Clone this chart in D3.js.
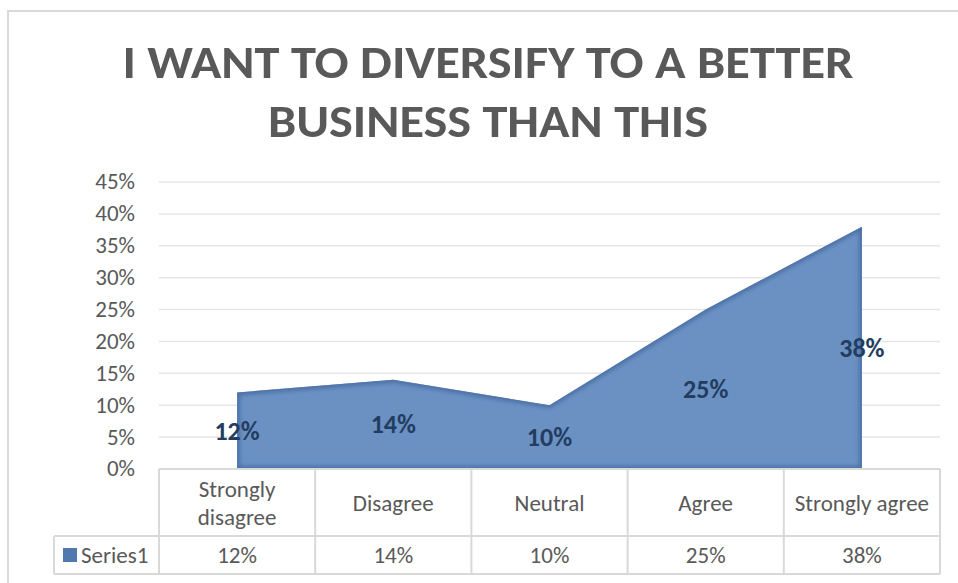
<!DOCTYPE html>
<html>
<head>
<meta charset="utf-8">
<script src="https://cdn.jsdelivr.net/npm/d3@7"></script>
<style>
  html, body { margin: 0; padding: 0; background: #fff; }
  svg { display: block; }
  text { font-family: Carlito, Calibri, "Open Sans", sans-serif; }
</style>
</head>
<body>
<svg id="chart" width="958" height="583"></svg>
<script>
// Survey responses and their shares
const categories = ["Strongly disagree", "Disagree", "Neutral", "Agree", "Strongly agree"];
const categoryLines = [["Strongly", "disagree"], ["Disagree"], ["Neutral"], ["Agree"], ["Strongly agree"]];
const seriesName = "Series1";
const values = [0.12, 0.14, 0.10, 0.25, 0.38];
const yTicks = [0, 0.05, 0.10, 0.15, 0.20, 0.25, 0.30, 0.35, 0.40, 0.45];
const titleLines = ["I WANT TO DIVERSIFY TO A BETTER", "BUSINESS THAN THIS"];

const svg = d3.select("#chart");
const W = 958, H = 583;
const textColor = "#595959";
const bodySize = 23;

// Frame
svg.append("rect")
  .attr("x", 8).attr("y", 11).attr("width", W).attr("height", H)
  .attr("fill", "#fff").attr("stroke", "#d9d9d9").attr("stroke-width", 2);

// Title
const titleWidths = [731, 440];
svg.append("g").selectAll("text").data(titleLines).join("text")
  .attr("x", 488)
  .attr("y", (d, i) => 78 + i * 59)
  .attr("text-anchor", "middle")
  .attr("font-weight", "bold")
  .attr("font-size", 47)
  .attr("fill", textColor)
  .attr("textLength", (d, i) => titleWidths[i])
  .attr("lengthAdjust", "spacingAndGlyphs")
  .text(d => d);

// Plot area
const plotLeft = 159, plotRight = 940, plotTop = 182, plotBottom = 469;
const x = d3.scaleBand().domain(categories).range([plotLeft, plotRight]).padding(0);
const y = d3.scaleLinear().domain([0, 0.45]).range([plotBottom, plotTop]);
const cx = d => x(d) + x.bandwidth() / 2;

// Gridlines
svg.append("g").selectAll("line").data(yTicks.filter(t => t > 0)).join("line")
  .attr("x1", plotLeft).attr("x2", plotRight)
  .attr("y1", d => y(d)).attr("y2", d => y(d))
  .attr("stroke", "#e6e6e6").attr("stroke-width", 1.5);

// Y axis labels
const yAxis = d3.axisLeft(y).tickValues(yTicks).tickFormat(d3.format(".0%")).tickSize(0).tickPadding(0);
const yg = svg.append("g").attr("transform", `translate(135,0)`).call(yAxis);
yg.select(".domain").remove();
yg.selectAll("text")
  .attr("font-size", bodySize)
  .attr("fill", textColor)
  .attr("dy", "0.3em");

// Area with a soft darker rim
const defs = svg.append("defs");
const area = d3.area()
  .x((d, i) => cx(categories[i]))
  .y0(y(0))
  .y1(d => y(d));
const areaPath = area(values);

defs.append("clipPath").attr("id", "areaClip").append("path").attr("d", areaPath);
const blur = defs.append("filter").attr("id", "rimBlur").attr("x", "-10%").attr("y", "-10%").attr("width", "120%").attr("height", "120%");
blur.append("feGaussianBlur").attr("stdDeviation", 2.2);

svg.append("path").attr("d", areaPath).attr("fill", "#6b91c3");
svg.append("g").attr("clip-path", "url(#areaClip)")
  .append("path").attr("d", areaPath)
  .attr("fill", "none").attr("stroke", "#4b70a6").attr("stroke-width", 6)
  .attr("filter", "url(#rimBlur)");

// Data labels at half height
svg.append("g").selectAll("text").data(values).join("text")
  .attr("x", (d, i) => cx(categories[i]))
  .attr("y", d => y(d / 2))
  .attr("dy", "0.35em")
  .attr("text-anchor", "middle")
  .attr("font-weight", "bold")
  .attr("font-size", 26)
  .attr("fill", "#233d61")
  .text(d => d3.format(".0%")(d));

// Data table
const rowTop = plotBottom, rowMid = 536, rowBot = 574, legendLeft = 54;
const tbl = svg.append("g").attr("stroke", "#d9d9d9").attr("stroke-width", 2);
tbl.append("line").attr("x1", plotLeft).attr("x2", plotRight).attr("y1", rowTop).attr("y2", rowTop);
tbl.append("line").attr("x1", legendLeft).attr("x2", plotRight).attr("y1", rowMid).attr("y2", rowMid);
tbl.append("line").attr("x1", legendLeft).attr("x2", plotRight).attr("y1", rowBot).attr("y2", rowBot);
tbl.append("line").attr("x1", legendLeft).attr("x2", legendLeft).attr("y1", rowMid).attr("y2", rowBot);
const edges = categories.map(c => x(c)).concat([plotRight]);
tbl.selectAll(".v").data(edges).join("line")
  .attr("x1", d => d).attr("x2", d => d)
  .attr("y1", rowTop).attr("y2", rowBot);

// Category header cells
const hdr = svg.append("g").selectAll("g").data(categoryLines).join("g");
hdr.each(function(lines, i) {
  const g = d3.select(this);
  const mid = (rowTop + rowMid) / 2;
  const lh = 28;
  lines.forEach((t, k) => {
    g.append("text")
      .attr("x", cx(categories[i]))
      .attr("y", mid + (k - (lines.length - 1) / 2) * lh)
      .attr("dy", "0.35em")
      .attr("text-anchor", "middle")
      .attr("font-size", bodySize)
      .attr("fill", textColor)
      .text(t);
  });
});

// Value row
svg.append("g").selectAll("text").data(values).join("text")
  .attr("x", (d, i) => cx(categories[i]))
  .attr("y", (rowMid + rowBot) / 2)
  .attr("dy", "0.35em")
  .attr("text-anchor", "middle")
  .attr("font-size", bodySize)
  .attr("fill", textColor)
  .text(d => d3.format(".0%")(d));

// Legend key
svg.append("rect").attr("x", 63).attr("y", 548).attr("width", 14).attr("height", 14).attr("fill", "#5079ae");
svg.append("text").attr("x", 81).attr("y", (rowMid + rowBot) / 2).attr("dy", "0.35em")
  .attr("font-size", bodySize).attr("fill", textColor).text(seriesName);
</script>
</body>
</html>
